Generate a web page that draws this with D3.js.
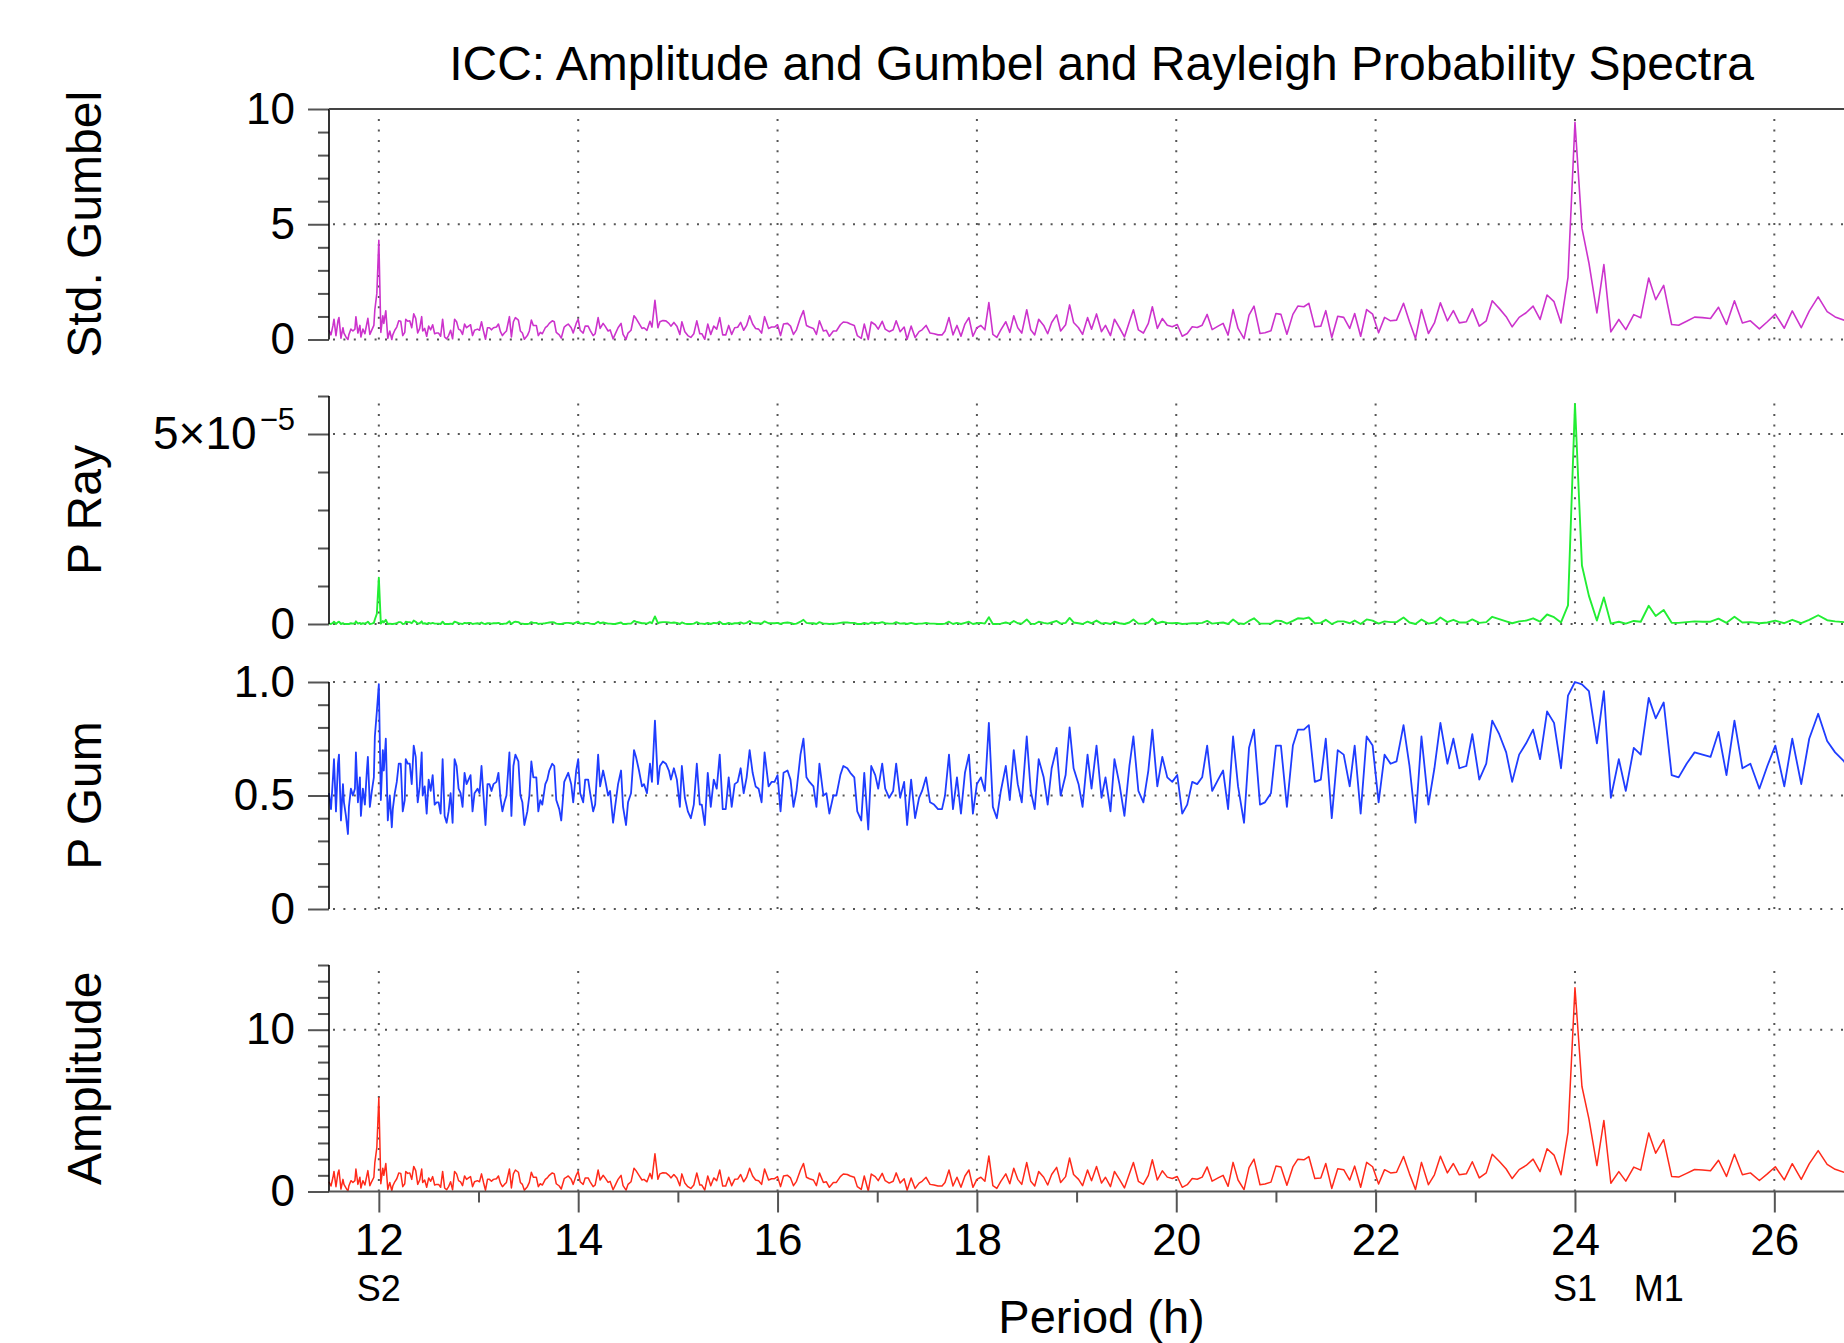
<!DOCTYPE html>
<html>
<head>
<meta charset="utf-8">
<script src="https://cdn.jsdelivr.net/npm/d3@7"></script>
<style>
  html, body { margin: 0; padding: 0; background: #fff; }
  svg { display: block; font-family: "Liberation Sans", Arial, Helvetica, sans-serif; }
</style>
</head>
<body>
<div id="chart"></div>
<script>
// Period (h) of each spectral line
const periods = [
  11.50,11.52,11.54,11.55,11.57,11.59,11.60,11.62,11.64,11.65,
  11.67,11.69,11.70,11.72,11.74,11.76,11.77,11.79,11.81,11.82,
  11.84,11.86,11.88,11.89,11.91,11.93,11.95,11.96,11.98,12.00,
  12.02,12.04,12.05,12.07,12.09,12.11,12.13,12.14,12.16,12.18,
  12.20,12.22,12.24,12.26,12.27,12.29,12.31,12.33,12.35,12.37,
  12.39,12.41,12.43,12.44,12.46,12.48,12.50,12.52,12.54,12.56,
  12.58,12.60,12.62,12.64,12.66,12.68,12.70,12.72,12.74,12.76,
  12.78,12.80,12.82,12.84,12.86,12.88,12.90,12.92,12.94,12.96,
  12.99,13.01,13.03,13.05,13.07,13.09,13.11,13.13,13.15,13.18,
  13.20,13.22,13.24,13.26,13.28,13.31,13.33,13.35,13.37,13.40,
  13.42,13.44,13.46,13.49,13.51,13.53,13.55,13.58,13.60,13.62,
  13.64,13.67,13.69,13.71,13.74,13.76,13.78,13.81,13.83,13.86,
  13.88,13.90,13.93,13.95,13.98,14.00,
  14.02,14.05,14.07,14.10,14.12,14.15,14.17,14.20,14.22,14.25,
  14.27,14.30,14.32,14.35,14.37,14.40,14.43,14.45,14.48,14.50,
  14.53,14.56,14.58,14.61,14.64,14.66,14.69,14.72,14.74,14.77,
  14.80,14.82,14.85,14.88,14.91,14.93,14.96,14.99,15.02,15.04,
  15.07,15.10,15.13,15.16,15.19,15.22,15.24,15.27,15.30,15.33,
  15.36,15.39,15.42,15.45,15.48,15.51,15.54,15.57,15.60,15.63,
  15.66,15.69,15.72,15.75,15.78,15.81,15.84,15.87,15.91,15.94,
  15.97,16.00,
  16.03,16.06,16.10,16.13,16.16,16.19,16.23,16.26,16.29,16.32,
  16.36,16.39,16.42,16.46,16.49,16.52,16.56,16.59,16.63,16.66,
  16.70,16.73,16.77,16.80,16.84,16.87,16.91,16.94,16.98,17.01,
  17.05,17.08,17.12,17.16,17.19,17.23,17.27,17.30,17.34,17.38,
  17.42,17.45,17.49,17.53,17.57,17.61,17.65,17.68,17.72,17.76,
  17.80,17.84,17.88,17.92,17.96,18.00,
  18.04,18.08,18.12,18.16,18.20,18.24,18.29,18.33,18.37,18.41,
  18.45,18.50,18.54,18.58,18.62,18.67,18.71,18.75,18.80,18.84,
  18.89,18.93,18.97,19.02,19.06,19.11,19.15,19.20,19.25,19.29,
  19.34,19.38,19.43,19.48,19.53,19.57,19.62,19.67,19.72,19.76,
  19.81,19.86,19.91,19.96,
  20.01,20.06,20.11,20.16,20.21,20.26,20.31,20.36,20.42,20.47,
  20.52,20.57,20.62,20.68,20.73,20.78,20.84,20.89,20.95,21.00,
  21.05,21.11,21.17,21.22,21.28,21.33,21.39,21.45,21.50,21.56,
  21.62,21.68,21.74,21.79,21.85,21.91,21.97,22.03,22.09,22.15,
  22.21,22.28,22.34,22.40,22.46,22.53,22.59,22.65,22.72,22.78,
  22.84,22.91,22.97,23.04,23.11,23.17,23.24,23.31,23.37,23.44,
  23.51,23.58,23.65,23.72,23.79,23.86,23.93,24.00,
  24.07,24.14,24.22,24.29,24.36,24.44,24.51,24.59,24.66,24.74,
  24.81,24.89,24.97,25.04,25.12,25.20,25.28,25.36,25.44,25.52,
  25.60,25.68,25.76,25.85,25.93,26.01,26.10,26.18,26.27,26.35,
  26.44,26.53,26.61,26.70,26.79
];

const stdGumbel = [
  0.40,0.20,0.61,0.88,0.17,0.81,0.95,0.06,0.51,0.28,
  0.11,0.00,0.22,0.45,0.37,0.45,0.99,0.28,0.61,0.11,
  0.45,0.25,0.70,0.92,0.22,0.42,0.61,1.29,2.00,4.30,
  0.31,1.03,0.70,1.25,0.05,0.37,0.00,0.20,0.40,0.54,
  0.81,0.79,0.17,0.31,0.88,0.79,0.81,0.51,1.11,0.92,
  0.28,0.48,0.99,0.37,0.48,0.14,0.58,0.42,0.64,0.25,
  0.28,0.28,0.14,0.88,0.11,0.03,0.17,0.40,0.03,0.88,
  0.77,0.45,0.40,0.22,0.67,0.51,0.58,0.64,0.17,0.40,
  0.45,0.40,0.77,0.37,0.01,0.51,0.51,0.42,0.51,0.54,
  0.67,0.34,0.17,0.28,0.37,0.99,0.11,0.77,0.95,0.84,
  0.37,0.28,0.01,0.17,0.37,0.84,0.61,0.61,0.17,0.31,
  0.25,0.51,0.58,0.70,0.81,0.77,0.31,0.20,0.06,0.54,
  0.61,0.67,0.51,0.28,0.70,0.88,
  0.40,0.28,0.58,0.58,0.40,0.17,0.25,0.95,0.48,0.70,
  0.58,0.37,0.42,0.03,0.22,0.51,0.70,0.22,0.01,0.28,
  0.40,1.03,0.92,0.70,0.48,0.51,0.40,0.79,0.54,1.70,
  0.51,0.77,0.82,0.81,0.70,0.58,0.74,0.58,0.22,0.77,
  0.34,0.17,0.09,0.25,0.81,0.25,0.25,0.01,0.67,0.22,
  0.58,0.45,0.95,0.20,0.20,0.61,0.22,0.51,0.53,0.74,
  0.40,0.61,1.03,0.67,0.48,0.45,0.28,0.99,0.48,0.54,
  0.54,0.64,
  0.17,0.67,0.70,0.58,0.22,0.42,0.95,1.25,0.61,0.54,
  0.48,0.22,0.81,0.37,0.40,0.14,0.37,0.37,0.64,0.76,
  0.74,0.67,0.61,0.17,0.05,0.67,0.00,0.76,0.64,0.45,
  0.79,0.45,0.34,0.42,0.81,0.34,0.54,0.01,0.58,0.09,
  0.34,0.42,0.61,0.28,0.25,0.20,0.20,0.37,0.95,0.20,
  0.61,0.14,0.67,0.95,0.14,0.51,
  0.61,0.42,1.60,0.22,0.09,0.42,0.77,0.31,1.03,0.51,
  0.28,1.29,0.42,0.20,0.88,0.61,0.25,0.74,1.07,0.37,
  0.64,1.50,0.74,0.51,0.22,0.95,0.45,1.11,0.34,0.61,
  0.17,0.88,0.51,0.11,0.77,1.29,0.42,0.28,0.70,1.42,
  0.48,0.91,0.62,0.55,
  0.65,0.14,0.26,0.55,0.52,0.62,1.09,0.43,0.58,0.70,
  0.19,1.30,0.48,0.04,1.06,1.45,0.26,0.29,0.38,1.13,
  1.09,0.23,1.09,1.45,1.42,1.57,0.55,0.58,1.25,0.09,
  1.01,0.96,0.48,1.13,0.14,1.30,1.10,0.29,0.96,0.81,
  0.84,1.57,0.77,0.04,1.30,0.26,0.72,1.59,0.81,1.25,
  0.72,0.77,1.33,0.58,0.81,1.68,1.35,0.99,0.55,0.96,
  1.16,1.45,0.87,1.93,1.64,0.72,2.70,9.42,
  4.83,3.32,1.15,3.25,0.33,0.87,0.43,1.08,0.94,2.67,
  1.73,2.35,0.65,0.62,0.79,0.97,0.95,0.91,1.40,0.65,
  1.68,0.72,0.81,0.46,0.77,1.10,0.49,1.24,0.51,1.23,
  1.85,1.21,0.98,0.84,0.60
];

// Rayleigh probability, in units of 1e-5
const pRay = [
  0.01,0.00,0.03,0.06,0.00,0.05,0.06,0.00,0.02,0.01,
  0.00,0.00,0.00,0.02,0.01,0.02,0.07,0.01,0.03,0.00,
  0.02,0.01,0.04,0.06,0.00,0.01,0.03,0.12,0.27,1.22,
  0.01,0.08,0.04,0.11,0.00,0.01,0.00,0.00,0.01,0.02,
  0.05,0.05,0.00,0.01,0.06,0.05,0.05,0.02,0.09,0.06,
  0.01,0.02,0.07,0.01,0.02,0.00,0.03,0.01,0.03,0.01,
  0.01,0.01,0.00,0.06,0.00,0.00,0.00,0.01,0.00,0.06,
  0.04,0.02,0.01,0.00,0.03,0.02,0.03,0.03,0.00,0.01,
  0.02,0.01,0.04,0.01,0.00,0.02,0.02,0.01,0.02,0.02,
  0.03,0.01,0.00,0.01,0.01,0.07,0.00,0.04,0.06,0.05,
  0.01,0.01,0.00,0.00,0.01,0.05,0.03,0.03,0.00,0.01,
  0.01,0.02,0.03,0.04,0.05,0.04,0.01,0.00,0.00,0.02,
  0.03,0.03,0.02,0.01,0.04,0.06,
  0.01,0.01,0.03,0.03,0.01,0.00,0.01,0.06,0.02,0.04,
  0.03,0.01,0.01,0.00,0.00,0.02,0.04,0.00,0.00,0.01,
  0.01,0.08,0.06,0.04,0.02,0.02,0.01,0.05,0.02,0.20,
  0.02,0.04,0.05,0.05,0.04,0.03,0.04,0.03,0.00,0.04,
  0.01,0.00,0.00,0.01,0.05,0.01,0.01,0.00,0.03,0.00,
  0.03,0.02,0.06,0.00,0.00,0.03,0.00,0.02,0.02,0.04,
  0.01,0.03,0.08,0.03,0.02,0.02,0.01,0.07,0.02,0.02,
  0.02,0.03,
  0.00,0.03,0.04,0.03,0.00,0.01,0.06,0.11,0.03,0.02,
  0.02,0.00,0.05,0.01,0.01,0.00,0.01,0.01,0.03,0.04,
  0.04,0.03,0.03,0.00,0.00,0.03,0.00,0.04,0.03,0.02,
  0.05,0.02,0.01,0.01,0.05,0.01,0.02,0.00,0.03,0.00,
  0.01,0.01,0.03,0.01,0.01,0.00,0.00,0.01,0.06,0.00,
  0.03,0.00,0.03,0.06,0.00,0.02,
  0.03,0.01,0.18,0.00,0.00,0.01,0.04,0.01,0.08,0.02,
  0.01,0.12,0.01,0.00,0.06,0.03,0.01,0.04,0.08,0.01,
  0.03,0.16,0.04,0.02,0.00,0.06,0.02,0.09,0.01,0.03,
  0.00,0.06,0.02,0.00,0.04,0.12,0.01,0.01,0.04,0.14,
  0.02,0.06,0.03,0.02,
  0.03,0.00,0.01,0.02,0.02,0.03,0.08,0.01,0.03,0.04,
  0.00,0.12,0.02,0.00,0.08,0.15,0.01,0.01,0.01,0.09,
  0.08,0.01,0.08,0.15,0.14,0.17,0.02,0.03,0.11,0.00,
  0.07,0.07,0.02,0.09,0.00,0.12,0.09,0.01,0.07,0.05,
  0.05,0.17,0.04,0.00,0.12,0.01,0.04,0.17,0.05,0.11,
  0.04,0.04,0.12,0.03,0.05,0.19,0.13,0.07,0.02,0.07,
  0.09,0.15,0.06,0.25,0.18,0.04,0.49,5.79,
  1.54,0.74,0.09,0.70,0.01,0.06,0.01,0.08,0.06,0.48,
  0.21,0.37,0.03,0.03,0.05,0.07,0.06,0.06,0.14,0.03,
  0.19,0.04,0.05,0.02,0.04,0.09,0.02,0.11,0.02,0.11,
  0.23,0.10,0.07,0.05,0.03
];

const pGum = [
  0.51,0.44,0.58,0.66,0.43,0.64,0.68,0.39,0.55,0.47,
  0.41,0.33,0.45,0.53,0.50,0.53,0.69,0.47,0.58,0.41,
  0.53,0.46,0.61,0.67,0.45,0.52,0.58,0.76,0.87,0.99,
  0.48,0.70,0.61,0.75,0.39,0.50,0.36,0.44,0.51,0.56,
  0.64,0.64,0.43,0.48,0.66,0.64,0.64,0.55,0.72,0.67,
  0.47,0.54,0.69,0.50,0.54,0.42,0.57,0.52,0.59,0.46,
  0.47,0.47,0.42,0.66,0.41,0.38,0.43,0.51,0.38,0.66,
  0.63,0.53,0.51,0.45,0.60,0.55,0.57,0.59,0.43,0.51,
  0.53,0.51,0.63,0.50,0.37,0.55,0.55,0.52,0.55,0.56,
  0.60,0.49,0.43,0.47,0.50,0.69,0.41,0.63,0.68,0.65,
  0.50,0.47,0.37,0.43,0.50,0.65,0.58,0.58,0.43,0.48,
  0.46,0.55,0.57,0.61,0.64,0.63,0.48,0.44,0.39,0.56,
  0.58,0.60,0.55,0.47,0.61,0.66,
  0.51,0.47,0.57,0.57,0.51,0.43,0.46,0.68,0.54,0.61,
  0.57,0.50,0.52,0.38,0.45,0.55,0.61,0.45,0.37,0.47,
  0.51,0.70,0.67,0.61,0.54,0.55,0.51,0.64,0.56,0.83,
  0.55,0.63,0.65,0.64,0.61,0.57,0.62,0.57,0.45,0.63,
  0.49,0.43,0.40,0.46,0.64,0.46,0.46,0.37,0.60,0.45,
  0.57,0.53,0.68,0.44,0.44,0.58,0.45,0.55,0.56,0.62,
  0.51,0.58,0.70,0.60,0.54,0.53,0.47,0.69,0.54,0.56,
  0.56,0.59,
  0.43,0.60,0.61,0.57,0.45,0.52,0.68,0.75,0.58,0.56,
  0.54,0.45,0.64,0.50,0.51,0.42,0.50,0.50,0.59,0.63,
  0.62,0.60,0.58,0.43,0.39,0.60,0.35,0.63,0.59,0.53,
  0.64,0.53,0.49,0.52,0.64,0.49,0.56,0.37,0.57,0.40,
  0.49,0.52,0.58,0.47,0.46,0.44,0.44,0.50,0.68,0.44,
  0.58,0.42,0.60,0.68,0.42,0.55,
  0.58,0.52,0.82,0.45,0.40,0.52,0.63,0.48,0.70,0.55,
  0.47,0.76,0.52,0.44,0.66,0.58,0.46,0.62,0.71,0.50,
  0.59,0.80,0.62,0.55,0.45,0.68,0.53,0.72,0.49,0.58,
  0.43,0.66,0.55,0.41,0.63,0.76,0.52,0.47,0.61,0.79,
  0.54,0.67,0.58,0.56,
  0.59,0.42,0.46,0.56,0.55,0.58,0.72,0.52,0.57,0.61,
  0.44,0.76,0.54,0.38,0.71,0.79,0.46,0.47,0.51,0.72,
  0.72,0.45,0.72,0.79,0.79,0.81,0.56,0.57,0.75,0.40,
  0.70,0.68,0.54,0.72,0.42,0.76,0.72,0.47,0.68,0.64,
  0.65,0.81,0.63,0.38,0.76,0.46,0.62,0.82,0.64,0.75,
  0.62,0.63,0.77,0.57,0.64,0.83,0.77,0.69,0.56,0.68,
  0.73,0.79,0.66,0.87,0.82,0.62,0.94,1.00,
  0.99,0.96,0.73,0.96,0.49,0.66,0.52,0.71,0.68,0.93,
  0.84,0.91,0.59,0.58,0.64,0.69,0.68,0.67,0.78,0.59,
  0.83,0.62,0.64,0.53,0.63,0.72,0.54,0.75,0.55,0.75,
  0.86,0.74,0.69,0.65,0.58
];

const amplitude = [
  0.60,0.34,0.88,1.24,0.30,1.15,1.33,0.15,0.75,0.44,
  0.22,0.02,0.36,0.67,0.56,0.67,1.39,0.44,0.88,0.22,
  0.67,0.40,1.00,1.29,0.36,0.63,0.88,1.79,2.73,5.79,
  0.48,1.44,1.00,1.73,0.13,0.56,0.04,0.34,0.60,0.79,
  1.15,1.12,0.30,0.48,1.24,1.12,1.15,0.75,1.55,1.29,
  0.44,0.71,1.39,0.56,0.71,0.26,0.84,0.63,0.92,0.40,
  0.44,0.44,0.26,1.24,0.22,0.11,0.30,0.60,0.11,1.24,
  1.09,0.67,0.60,0.36,0.96,0.75,0.84,0.92,0.30,0.60,
  0.67,0.60,1.09,0.56,0.08,0.75,0.75,0.63,0.75,0.79,
  0.96,0.52,0.30,0.44,0.56,1.39,0.22,1.09,1.33,1.19,
  0.56,0.44,0.08,0.30,0.56,1.19,0.88,0.88,0.30,0.48,
  0.40,0.75,0.84,1.00,1.15,1.09,0.48,0.34,0.15,0.79,
  0.88,0.96,0.75,0.44,1.00,1.24,
  0.60,0.44,0.84,0.84,0.60,0.30,0.40,1.33,0.71,1.00,
  0.84,0.56,0.63,0.11,0.36,0.75,1.00,0.36,0.08,0.44,
  0.60,1.44,1.29,1.00,0.71,0.75,0.60,1.12,0.79,2.33,
  0.75,1.09,1.16,1.15,1.00,0.84,1.05,0.84,0.36,1.09,
  0.52,0.30,0.19,0.40,1.15,0.40,0.40,0.08,0.96,0.36,
  0.84,0.67,1.33,0.34,0.34,0.88,0.36,0.75,0.77,1.05,
  0.60,0.88,1.44,0.96,0.71,0.67,0.44,1.39,0.71,0.79,
  0.79,0.92,
  0.30,0.96,1.00,0.84,0.36,0.63,1.33,1.73,0.88,0.79,
  0.71,0.36,1.15,0.56,0.60,0.26,0.56,0.56,0.92,1.08,
  1.05,0.96,0.88,0.30,0.13,0.96,0.03,1.08,0.92,0.67,
  1.12,0.67,0.52,0.63,1.15,0.52,0.79,0.08,0.84,0.19,
  0.52,0.63,0.88,0.44,0.40,0.34,0.34,0.56,1.33,0.34,
  0.88,0.26,0.96,1.33,0.26,0.75,
  0.88,0.63,2.20,0.36,0.19,0.63,1.09,0.48,1.44,0.75,
  0.44,1.79,0.63,0.34,1.24,0.88,0.40,1.05,1.49,0.56,
  0.92,2.07,1.05,0.75,0.36,1.33,0.67,1.55,0.52,0.88,
  0.30,1.24,0.75,0.22,1.09,1.79,0.63,0.44,1.00,1.96,
  0.71,1.28,0.89,0.80,
  0.93,0.26,0.42,0.80,0.76,0.89,1.52,0.64,0.84,1.00,
  0.32,1.80,0.71,0.12,1.48,2.00,0.42,0.46,0.58,1.57,
  1.52,0.38,1.52,2.00,1.96,2.16,0.80,0.84,1.73,0.19,
  1.41,1.35,0.71,1.57,0.26,1.80,1.53,0.46,1.35,1.15,
  1.19,2.16,1.09,0.12,1.80,0.42,1.03,2.18,1.15,1.73,
  1.03,1.09,1.84,0.84,1.15,2.30,1.87,1.39,0.80,1.35,
  1.61,2.00,1.23,2.64,2.25,1.03,3.66,12.60,
  6.49,4.49,1.60,4.39,0.51,1.23,0.64,1.51,1.32,3.62,
  2.37,3.20,0.93,0.89,1.12,1.36,1.33,1.28,1.93,0.93,
  2.30,1.03,1.15,0.68,1.09,1.53,0.72,1.72,0.75,1.71,
  2.53,1.68,1.37,1.19,0.87
];

const xTicks = [12, 14, 16, 18, 20, 22, 24, 26];
const xMinorTicks = [13, 15, 17, 19, 21, 23, 25];
const tideNames = ["S2", "S1", "M1"];
const tidePeriods = [12, 24, 24.84];
const titleText = "ICC: Amplitude and Gumbel and Rayleigh Probability Spectra";

const width = 1844, height = 1343;
const x0 = 329;

const svg = d3.select("#chart")
    .append("svg")
    .attr("width", width)
    .attr("height", height);

svg.append("rect").attr("width", width).attr("height", height).attr("fill", "#fff");

const x = d3.scaleLinear().domain([11.5, 27]).range([x0, 1874]);

// one entry per stacked panel, top to bottom
const panels = [
    {label: "Std. Gumbel", values: stdGumbel, color: "#cc33cc", lw: 1.6,
     domain: [0, 10], range: [339.5, 109], major: [0, 5, 10],
     minor: [1, 2, 3, 4, 6, 7, 8, 9], grid: [0, 5], fmt: d => d},
    {label: "P Ray", values: pRay, color: "#22ee33", lw: 1.9,
     domain: [0, 6], range: [624, 396], major: [0, 5],
     minor: [1, 2, 3, 4, 6], grid: [0, 5], fmt: d => d},
    {label: "P Gum", values: pGum, color: "#1f3dff", lw: 1.8,
     domain: [0, 1], range: [909, 682], major: [0, 0.5, 1],
     minor: [0.1, 0.2, 0.3, 0.4, 0.6, 0.7, 0.8, 0.9], grid: [0, 0.5, 1],
     fmt: d => d === 0 ? "0" : d3.format(".1f")(d)},
    {label: "Amplitude", values: amplitude, color: "#ff2a1a", lw: 1.5,
     domain: [0, 14], range: [1191.5, 965], major: [0, 10],
     minor: [1, 2, 3, 4, 5, 6, 7, 8, 9, 11, 12, 13, 14], grid: [10], fmt: d => d}
];

panels.forEach((p, pi) => {
    const y = d3.scaleLinear().domain(p.domain).range(p.range);
    const g = svg.append("g");

    // dotted grid
    g.selectAll(".hgrid")
        .data(p.grid)
        .join("line")
        .attr("x1", x0 + 4).attr("x2", width)
        .attr("y1", d => y(d)).attr("y2", d => y(d))
        .attr("stroke", "#555")
        .attr("stroke-width", 2)
        .attr("stroke-dasharray", "2,8.4");

    g.selectAll(".vgrid")
        .data(xTicks)
        .join("line")
        .attr("x1", d => x(d)).attr("x2", d => x(d))
        .attr("y1", y(p.domain[0])).attr("y2", y(p.domain[1]) + 6)
        .attr("stroke", "#555")
        .attr("stroke-width", 2)
        .attr("stroke-dasharray", "2,8.4");

    // spectrum line
    const line = d3.line()
        .x((d, i) => x(periods[i]))
        .y(d => y(d));

    g.append("path")
        .datum(p.values)
        .attr("fill", "none")
        .attr("stroke", p.color)
        .attr("stroke-width", p.lw)
        .attr("stroke-linejoin", "round")
        .attr("d", line);

    // minor and major y ticks
    const gMin = svg.append("g")
        .attr("transform", `translate(${x0},0)`)
        .call(d3.axisLeft(y).tickValues(p.minor).tickSize(11).tickFormat(""));
    gMin.select(".domain").remove();
    gMin.selectAll("line").attr("stroke", "#555").attr("stroke-width", 2);

    const gMaj = svg.append("g")
        .attr("transform", `translate(${x0},0)`)
        .call(d3.axisLeft(y).tickValues(p.major).tickSize(21).tickPadding(13).tickFormat(p.fmt));
    gMaj.select(".domain").remove();
    gMaj.selectAll("line").attr("stroke", "#555").attr("stroke-width", 2);
    gMaj.selectAll("text")
        .attr("font-size", 44)
        .attr("font-family", "Liberation Sans, Arial, sans-serif")
        .attr("fill", "#000");

    if (p.label === "P Ray") {
        const t = gMaj.selectAll(".tick text").filter(d => d === 5);
        t.text("5×10").attr("font-size", 46);
        t.append("tspan").attr("dx", 3).attr("dy", -19).attr("font-size", 31).text("−5");
    }

    // axis line
    svg.append("line")
        .attr("x1", x0).attr("x2", x0)
        .attr("y1", y(p.domain[0])).attr("y2", y(p.domain[1]))
        .attr("stroke", "#000")
        .attr("stroke-width", 1.6);

    // y axis title
    svg.append("text")
        .attr("transform", `translate(101,${(p.range[0] + p.range[1]) / 2}) rotate(-90)`)
        .attr("text-anchor", "middle")
        .attr("font-size", 48)
        .text(p.label);

    if (pi === 0) {
        svg.append("line")
            .attr("x1", x0).attr("x2", width)
            .attr("y1", y(10)).attr("y2", y(10))
            .attr("stroke", "#444")
            .attr("stroke-width", 2);
    }

    if (pi === panels.length - 1) {
        svg.append("line")
            .attr("x1", x0).attr("x2", width)
            .attr("y1", y(0)).attr("y2", y(0))
            .attr("stroke", "#555")
            .attr("stroke-width", 2);

        const gxMin = svg.append("g")
            .attr("transform", `translate(0,${y(0)})`)
            .call(d3.axisBottom(x).tickValues(xMinorTicks).tickSize(11).tickFormat(""));
        gxMin.select(".domain").remove();
        gxMin.selectAll("line").attr("stroke", "#555").attr("stroke-width", 2);

        const gx = svg.append("g")
            .attr("transform", `translate(0,${y(0)})`)
            .call(d3.axisBottom(x).tickValues(xTicks).tickSize(21).tickPadding(11).tickFormat(d3.format("d")));
        gx.select(".domain").remove();
        gx.selectAll("line").attr("stroke", "#555").attr("stroke-width", 2);
        gx.selectAll("text")
            .attr("font-size", 44)
            .attr("font-family", "Liberation Sans, Arial, sans-serif")
            .attr("fill", "#000");
    }
});

// tidal constituent labels
svg.selectAll(".tide")
    .data(tideNames)
    .join("text")
    .attr("x", (d, i) => x(tidePeriods[i]))
    .attr("y", 1301)
    .attr("text-anchor", "middle")
    .attr("font-size", 36)
    .text(d => d);

// title
svg.append("text")
    .attr("x", (x.range()[0] + x.range()[1]) / 2)
    .attr("y", 80)
    .attr("text-anchor", "middle")
    .attr("font-size", 48)
    .text(titleText);

// x axis label
svg.append("text")
    .attr("x", (x.range()[0] + x.range()[1]) / 2)
    .attr("y", 1333)
    .attr("text-anchor", "middle")
    .attr("font-size", 47)
    .text("Period (h)");
</script>
</body>
</html>
